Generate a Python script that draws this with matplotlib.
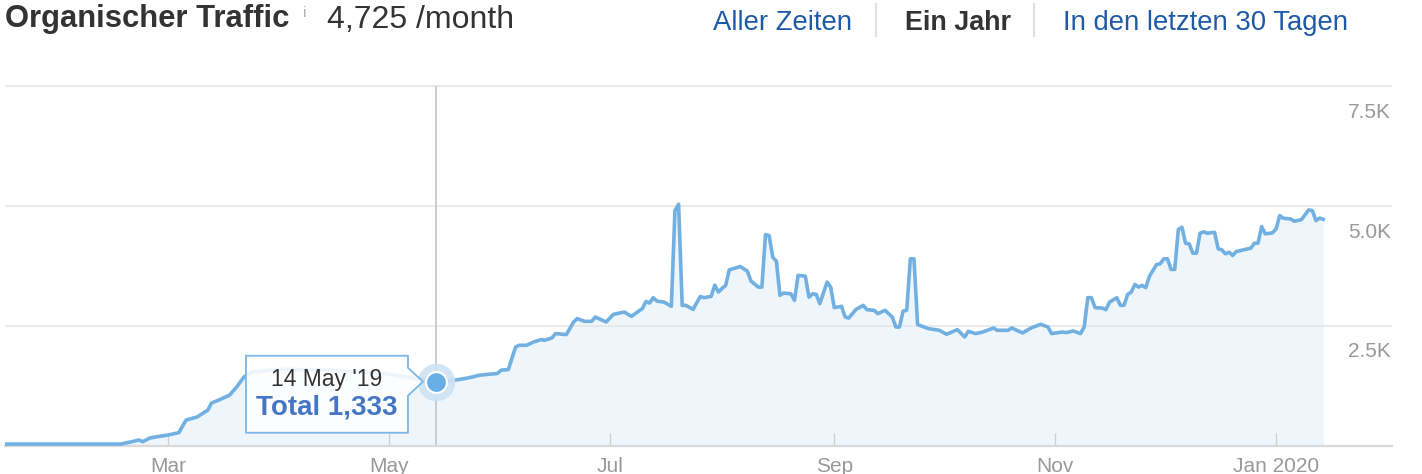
import pandas as pd
import matplotlib
matplotlib.use('Agg')
import matplotlib.pyplot as plt
import matplotlib.dates as mdates
import matplotlib.transforms as mtransforms
from matplotlib.patches import Polygon
from matplotlib.lines import Line2D

plt.rcParams['font.family'] = ['Liberation Sans', 'DejaVu Sans']

# daily organic traffic (day offsets from the first day)
start_day = '2019-01-15'
days = [0, 32, 35, 37, 38, 40, 42, 45, 48, 50, 53, 56, 57, 59, 62, 64, 66, 68, 76, 90,
        104, 115, 119, 123, 128, 131, 136, 137, 139, 141, 142, 144, 146, 148, 149, 151,
        152, 155, 157, 158, 160, 162, 163, 166, 168, 171, 173, 175, 176, 177, 178, 179,
        180, 182, 184, 185, 186, 187, 188, 190, 192, 193, 195, 196, 197, 198, 199, 200,
        202, 203, 205, 206, 208, 209, 210, 211, 212, 213, 214, 215, 217, 218, 219, 221,
        222, 223, 224, 225, 227, 228, 229, 231, 232, 233, 235, 237, 238, 240, 241, 243,
        245, 246, 247, 248, 249, 250, 251, 252, 255, 258, 260, 263, 265, 266, 268, 270,
        273, 274, 277, 278, 281, 283, 284, 286, 288, 289, 292, 293, 295, 297, 298, 299,
        300, 301, 303, 304, 305, 307, 308, 309, 310, 311, 312, 313, 314, 315, 316, 318,
        319, 320, 321, 322, 323, 324, 325, 326, 327, 328, 329, 330, 331, 332, 334, 335,
        336, 337, 338, 339, 340, 342, 344, 345, 346, 347, 348, 350, 351, 352, 353, 355,
        356, 358, 360, 361, 362, 363, 364]
traffic = [30, 30, 79, 115, 79, 156, 183, 219, 267, 531, 594, 739, 885, 948, 1052, 1225, 1433, 1531, 1593, 1573,
           1510, 1385, 1333, 1350, 1412, 1468, 1504, 1573, 1587, 2058, 2093, 2093, 2162, 2212, 2198, 2245,
           2337, 2316, 2579, 2650, 2593, 2593, 2683, 2579, 2739, 2787, 2697, 2808, 2858, 3010, 2975, 3087,
           3016, 2995, 2906, 4905, 5040, 2927, 2927, 2843, 3114, 3087, 3114, 3349, 3204, 3280, 3343, 3670,
           3712, 3739, 3641, 3433, 3308, 3308, 4405, 4385, 3933, 3849, 3135, 3183, 3170, 3031, 3552, 3537,
           3099, 3170, 3156, 2962, 3412, 3308, 2879, 2906, 2683, 2662, 2843, 2927, 2837, 2823, 2754, 2823,
           2683, 2475, 2475, 2808, 2823, 3899, 3899, 2525, 2441, 2406, 2323, 2420, 2266, 2385, 2337, 2370,
           2454, 2406, 2406, 2454, 2350, 2441, 2475, 2531, 2475, 2337, 2370, 2358, 2391, 2337, 2475, 3087,
           3087, 2879, 2870, 2837, 2995, 3087, 2927, 2927, 3156, 3204, 3364, 3308, 3343, 3295, 3531, 3781,
           3795, 3899, 3899, 3677, 3677, 4510, 4558, 4224, 4212, 4016, 4016, 4433, 4462, 4433, 4453, 4108,
           4087, 4003, 4037, 3968, 4051, 4087, 4120, 4224, 4224, 4572, 4420, 4441, 4524, 4801, 4745, 4733,
           4683, 4718, 4920, 4905, 4697, 4750, 4725]

tick_dates = ['2019-03-01', '2019-05-01', '2019-07-01', '2019-09-01', '2019-11-01', '2020-01-01']
tick_labels = ['Mar', 'May', 'Jul', 'Sep', 'Nov', 'Jan 2020']
y_ticks = [2500, 5000, 7500]
y_labels = ['2.5K', '5.0K', '7.5K']
hover_day = 119
monthly = '4,725'

LINE = '#72b0e2'
FILL = '#eef6fb'
GRID = '#e6e6e6'
LINK = '#1f5aa8'

W, H = 1422, 474
fig = plt.figure(figsize=(W / 100, H / 100), dpi=100)
ax = fig.add_axes([5 / W, 28.5 / H, 1387 / W, 366.3 / H])

dates = pd.Timestamp(start_day) + pd.to_timedelta(days, unit='D')
ax.fill_between(dates, traffic, 0, color=FILL, lw=0, zorder=1)
for v in y_ticks:
    ax.axhline(v, color=GRID, lw=1.2, zorder=1.5)
ax.plot(dates, traffic, color=LINE, lw=2.6, zorder=3, solid_joinstyle='round')

ax.set_ylim(0, 7650)
ax.set_xlim(dates[0], dates[0] + pd.Timedelta(days=383))
for s in ['top', 'left', 'right']:
    ax.spines[s].set_visible(False)
ax.spines['bottom'].set_color('#d9d9d9')
ax.spines['bottom'].set_linewidth(1.6)
ax.set_yticks([])
ax.set_xticks(pd.to_datetime(tick_dates))
ax.set_xticklabels(tick_labels)
ax.tick_params(axis='x', direction='in', length=9.4, width=1.0, color='#d0d0d0',
               labelsize=15, labelcolor='#999999', pad=8.5)

# y labels sit below their grid lines, inside the plot
blend = mtransforms.blended_transform_factory(ax.transAxes, ax.transData)
for v, lab in zip(y_ticks, y_labels):
    ax.text(1.0, v, lab, transform=mtransforms.offset_copy(blend, fig=fig, x=-1, y=-26, units='dots'),
            ha='right', va='center', fontsize=15, color='#999999')

# hover crosshair, marker and tooltip
hover_date = dates[days.index(hover_day)]
hv = traffic[days.index(hover_day)]
ax.vlines(hover_date, 0, 7500, color='#c4c4c4', lw=1.2, zorder=2)
ax.plot(hover_date, hv, 'o', ms=27, color='#cfe2f4', mec='none', alpha=0.9, zorder=4)
ax.plot(hover_date, hv, 'o', ms=15, color='#6aaee6', mec='white', mew=1.5, zorder=4.5)

tip = mtransforms.Affine2D() + mtransforms.ScaledTranslation(
    mdates.date2num(hover_date), hv, ax.transData)
box = [(-190, 26), (-28, 26), (-28, 14), (-13, 0), (-28, -14), (-28, -51), (-190, -51)]
ax.add_patch(Polygon(box, closed=True, transform=tip, facecolor='white', alpha=0.88,
                     edgecolor='#7db7e8', lw=1.1, zorder=5, clip_on=False))
ax.add_patch(Polygon(box, closed=True, transform=tip, facecolor='none',
                     edgecolor='#7db7e8', lw=1.1, zorder=5.5, clip_on=False))
ax.text(-109, 2, hover_date.strftime("%d %b '%y"), transform=tip, ha='center', va='center',
        fontsize=16.5, color='#333333', zorder=6)
ax.text(-109, -26, f'Total {hv:,}', transform=tip, ha='center', va='center',
        fontsize=20, fontweight='bold', color='#4576c4', zorder=6)

# header
fig.text(5 / W, (H - 27) / H, 'Organischer Traffic', fontsize=22.3, fontweight='bold',
         color='#333333', va='baseline')
fig.text(303 / W, (H - 17) / H, 'i', fontsize=11, color='#b0b0b0', va='baseline')
fig.text(327 / W, (H - 28) / H, f'{monthly} /month', fontsize=23, color='#333333', va='baseline')
fig.text(713 / W, (H - 30) / H, 'Aller Zeiten', fontsize=19.8, color=LINK, va='baseline')
fig.text(905 / W, (H - 30) / H, 'Ein Jahr', fontsize=19.4, fontweight='bold', color='#333333', va='baseline')
fig.text(1063 / W, (H - 30) / H, 'In den letzten 30 Tagen', fontsize=19.8, color=LINK, va='baseline')
for xs in [876, 1034]:
    fig.add_artist(Line2D([xs / W, xs / W], [(H - 4) / H, (H - 36) / H], color='#e0e0e0', lw=1.5))

fig.savefig('out.png', dpi=100)
